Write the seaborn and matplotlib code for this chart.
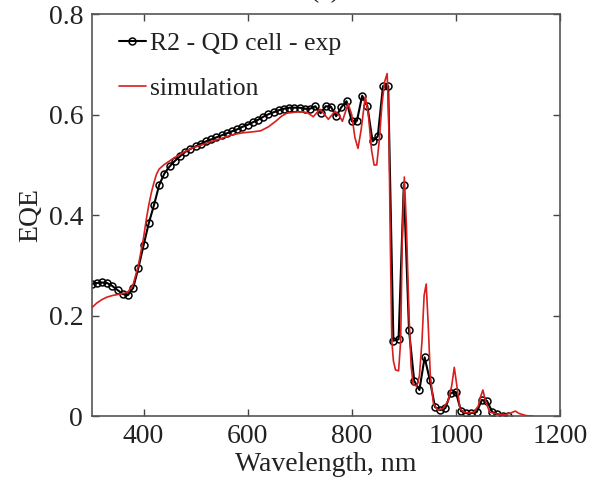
import numpy as np
import pandas as pd
import matplotlib
matplotlib.use("Agg")
import matplotlib.pyplot as plt
import seaborn as sns

# measured EQE, every 10 nm
exp_wl = list(range(300, 1101, 10))
exp_eqe = [0.263, 0.265, 0.266, 0.265, 0.259, 0.251, 0.243, 0.241, 0.255, 0.295,
           0.340, 0.384, 0.420, 0.460, 0.483, 0.497, 0.508, 0.517, 0.526, 0.532,
           0.537, 0.542, 0.547, 0.551, 0.555, 0.559, 0.563, 0.567, 0.571, 0.576,
           0.580, 0.585, 0.590, 0.596, 0.601, 0.605, 0.609, 0.612, 0.614, 0.614,
           0.614, 0.612, 0.612, 0.617, 0.603, 0.617, 0.616, 0.597, 0.615, 0.627,
           0.587, 0.588, 0.638, 0.617, 0.547, 0.557, 0.657, 0.657, 0.150, 0.153,
           0.460, 0.171, 0.070, 0.052, 0.117, 0.072, 0.018, 0.012, 0.016, 0.046,
           0.048, 0.010, 0.006, 0.006, 0.008, 0.032, 0.030, 0.008, 0.004, 0.001,
           0.000]

# simulated EQE
sim_wl = [300, 310, 320, 330, 340, 350, 360, 370, 380, 390, 400, 405, 410, 415,
          420, 425, 430, 440, 450, 460, 470, 480, 490, 500, 515, 530, 550, 570,
          590, 610, 625, 640, 655, 665, 675, 690, 705, 715, 726, 739, 748, 755,
          768, 775, 782, 793, 800, 806, 812, 818, 826, 832, 838, 843, 848, 853,
          858, 863, 868, 871, 874, 877, 880, 884, 890, 894, 897, 901, 905, 910, 914,
          918, 925, 930, 935, 939, 943, 947, 951, 957, 965, 975, 985, 992, 997,
          1002, 1008, 1015, 1025, 1035, 1043, 1048, 1052, 1057, 1065, 1080, 1095,
          1105, 1114, 1122, 1135, 1148]
sim_eqe = [0.215, 0.225, 0.232, 0.237, 0.240, 0.242, 0.244, 0.247, 0.262, 0.300,
           0.355, 0.390, 0.420, 0.445, 0.465, 0.482, 0.492, 0.501, 0.508, 0.515,
           0.521, 0.527, 0.532, 0.536, 0.541, 0.547, 0.553, 0.560, 0.564, 0.566,
           0.568, 0.576, 0.588, 0.597, 0.603, 0.605, 0.606, 0.604, 0.596, 0.611,
           0.600, 0.591, 0.607, 0.600, 0.587, 0.622, 0.600, 0.555, 0.533, 0.570,
           0.636, 0.600, 0.530, 0.500, 0.500, 0.550, 0.620, 0.665, 0.682, 0.600,
           0.350, 0.150, 0.110, 0.092, 0.090, 0.150, 0.350, 0.476, 0.380, 0.200, 0.100,
           0.062, 0.060, 0.080, 0.150, 0.240, 0.263, 0.180, 0.080, 0.025, 0.012,
           0.015, 0.030, 0.060, 0.097, 0.060, 0.015, 0.008, 0.006, 0.008, 0.020,
           0.040, 0.052, 0.030, 0.008, 0.004, 0.003, 0.006, 0.010, 0.005, 0.001,
           0.000]

x_ticks = [400, 600, 800, 1000, 1200]
y_ticks = [0, 0.2, 0.4, 0.6, 0.8]

sns.set_style("ticks")
plt.rcParams["font.family"] = ["Liberation Serif", "DejaVu Serif"]

df_exp = pd.DataFrame({"wl": exp_wl, "eqe": exp_eqe})
df_sim = pd.DataFrame({"wl": sim_wl, "eqe": sim_eqe})

fig = plt.figure(figsize=(6.06, 4.93), dpi=100)
ax = fig.add_axes([0.151, 0.156, 0.773, 0.815])

sns.lineplot(data=df_exp, x="wl", y="eqe", ax=ax, color="black", lw=1.5,
             marker="o", markersize=5, markerfacecolor="none",
             markeredgecolor="black", markeredgewidth=1.1,
             label="R2 - QD cell - exp", zorder=2)
sns.lineplot(data=df_sim, x="wl", y="eqe", ax=ax, color="#d81e1e", lw=1.2,
             label="simulation", zorder=3)

ax.set_xlim(300, 1200)
ax.set_ylim(0, 0.8)
ax.set_xticks(x_ticks)
ax.set_yticks(y_ticks)
ax.set_yticklabels(["0", "0.2", "0.4", "0.6", "0.8"])
ax.tick_params(direction="in", top=True, right=True, length=5, width=1,
               labelsize=20, colors="#444444", labelcolor="#222222", pad=6)
for s in ax.spines.values():
    s.set_color("#555555")
    s.set_linewidth(1.2)

ax.set_xlabel("Wavelength, nm", fontsize=20, color="#222222", labelpad=2)
ax.set_ylabel("EQE", fontsize=20, color="#222222", labelpad=4)

leg = ax.legend(loc="upper left", bbox_to_anchor=(0.02, 1.0), frameon=False,
                fontsize=18.5, handlelength=1.05, handletextpad=0.15,
                borderaxespad=0.3, labelspacing=0.85)
for t in leg.get_texts():
    t.set_color("#222222")

fig.text(0.537, 0.994, "(a)", fontsize=20, ha="center", va="bottom", color="#222222")

fig.savefig("out.png", dpi=100)
plt.close(fig)
